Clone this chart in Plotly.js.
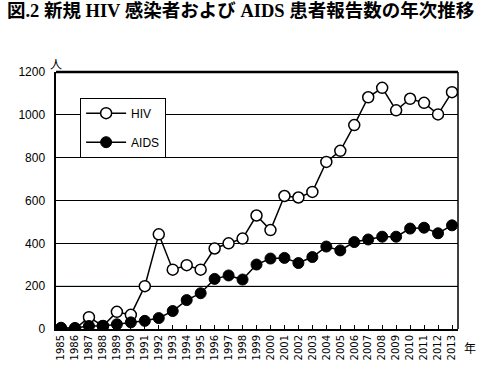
<!DOCTYPE html>
<html>
<head>
<meta charset="utf-8">
<script src="https://cdn.plot.ly/plotly-3.0.1.min.js"></script>
<style>html,body{margin:0;padding:0;background:#fff;}#chart{width:493px;height:378px;}</style>
</head>
<body>
<div id="chart"></div>
<script>
const years = [1985,1986,1987,1988,1989,1990,1991,1992,1993,1994,1995,1996,1997,1998,1999,2000,2001,2002,2003,2004,2005,2006,2007,2008,2009,2010,2011,2012,2013];
const hiv  = [0,0,55,14,80,66,200,442,277,298,277,376,400,422,530,462,621,614,640,780,832,952,1082,1126,1021,1075,1056,1002,1106];
const aids = [6,5,14,14,22,31,38,51,84,135,167,234,250,231,301,329,332,308,336,385,367,406,418,431,431,469,473,447,484];
const yTicks = [0,200,400,600,800,1000,1200];
const xTickLabels = years.map(String);

const traces = [
  {x: years, y: hiv, name: 'HIV', type: 'scatter', mode: 'lines+markers', legendgroup: 'a', legendrank: 1,
   line: {color: '#000', width: 1.5}, marker: {symbol: 'circle', size: 11, color: '#fff', line: {color: '#000', width: 1.5}}},
  {x: years, y: aids, name: 'AIDS', type: 'scatter', mode: 'lines+markers', legendgroup: 'b', legendrank: 2,
   line: {color: '#000', width: 1.5}, marker: {symbol: 'circle', size: 11, color: '#000', line: {color: '#000', width: 1}}}
];

const layout = {
  width: 493, height: 378,
  margin: {l: 56, r: 35, t: 72, b: 49},
  paper_bgcolor: '#fff', plot_bgcolor: '#fff',
  showlegend: true,
  title: {text: '<b>図.2 新規 HIV 感染者および AIDS 患者報告数の年次推移</b>', x: 0.014, xanchor: 'left', y: 0.99, yanchor: 'top',
          font: {family: 'Liberation Serif, Noto Sans CJK JP, serif', size: 18.5, color: '#000'}},
  font: {family: 'Liberation Sans, Arial, sans-serif', color: '#000'},
  xaxis: {range: [1984.64, 2013.43], tickmode: 'array', tickvals: years, ticktext: xTickLabels, tickangle: -90,
          ticks: 'inside', ticklen: 4, tickwidth: 1, tickcolor: '#000',
          tickfont: {family: 'DejaVu Sans, sans-serif', size: 10, color: '#000'},
          showgrid: false, zeroline: false, showline: true, linecolor: '#000', linewidth: 2, mirror: false, fixedrange: true},
  yaxis: {range: [0, 1200], tickmode: 'array', tickvals: yTicks, ticks: '', showgrid: true, gridcolor: '#000', gridwidth: 1,
          tickfont: {family: 'Liberation Sans, Arial, sans-serif', size: 12, color: '#000'}, ticklabelstandoff: 6,
          zeroline: false, showline: true, linecolor: '#000', linewidth: 2.5, fixedrange: true},
  legend: {x: 0.06, y: 0.9, xanchor: 'left', yanchor: 'top', bgcolor: '#fff', bordercolor: '#000', borderwidth: 1,
           font: {family: 'Liberation Sans, Arial, sans-serif', size: 12, color: '#000'}, traceorder: 'grouped', tracegroupgap: 10,
           itemwidth: 40, entrywidth: 88},
  shapes: [
    {type: 'line', xref: 'paper', yref: 'y', x0: 0, x1: 1, y0: 200, y1: 200, line: {color: '#6f8f6f', width: 1}, layer: 'below'},
    {type: 'line', xref: 'paper', yref: 'paper', x0: 0, x1: 1, y0: 1, y1: 1, line: {color: '#000', width: 2.5}},
    {type: 'line', xref: 'paper', yref: 'paper', x0: 1, x1: 1, y0: 0, y1: 1, line: {color: '#000', width: 1.5}}
  ],
  annotations: [
    {text: '人', xref: 'paper', yref: 'paper', x: 0, y: 1, xanchor: 'center', yanchor: 'bottom', yshift: -2, showarrow: false,
     font: {family: 'Noto Sans CJK JP, sans-serif', size: 12, color: '#000'}},
    {text: '年', xref: 'paper', yref: 'paper', x: 1, y: 0, xanchor: 'left', yanchor: 'top', xshift: 4, yshift: -8, showarrow: false,
     font: {family: 'Noto Sans CJK JP, sans-serif', size: 12, color: '#000'}}
  ]
};

Plotly.newPlot('chart', traces, layout, {displayModeBar: false, staticPlot: true});
</script>
</body>
</html>
